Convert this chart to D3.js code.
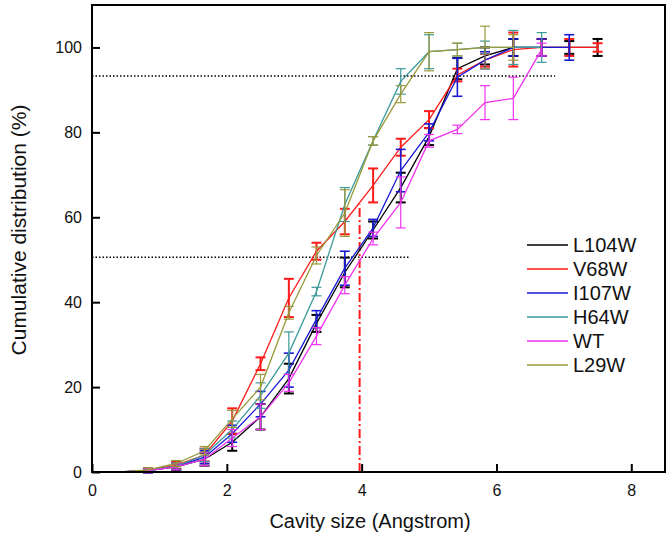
<!DOCTYPE html>
<html>
<head>
<meta charset="utf-8">
<script src="https://cdn.jsdelivr.net/npm/d3@7"></script>
<style>
  body { margin: 0; background: #fff; }
  svg { font-family: "Liberation Sans", Arial, sans-serif; }
</style>
</head>
<body>
<div id="chart"></div>
<script>
// cavity sizes (Angstrom)
const sizes = [0, 0.42, 0.83, 1.25, 1.67, 2.08, 2.5, 2.92, 3.33, 3.75, 4.17, 4.58, 5.0, 5.42, 5.83, 6.25, 6.67, 7.08, 7.5];

const names = ["L104W", "V68W", "I107W", "H64W", "WT", "L29W"];
const colors = ["#000000", "#ff1a1a", "#1a1ad6", "#3a9999", "#f032f0", "#99993a"];
const barWidths = [2, 2, 1.6, 1.2, 1.2, 1.2];

const valL104W = [0, 0, 0.3, 1.2, 3, 7, 13, 22, 35, 47, 57, 67, 79, 95, 98, 100, 100, 100, 100];
const errL104W = [0, 0, 0.5, 0.7, 1.5, 2, 3, 3.5, 2, 3.5, 2, 3.5, 2, 2.5, 2, 2, 2, 1.5, 2];
const valV68W  = [0, 0, 0.4, 1.6, 4, 12, 25.5, 41, 52, 59, 67.5, 76.5, 83, 93.5, 97, 99.5, 100, 100, 100];
const errV68W  = [0, 0, 0.5, 0.8, 1.5, 3, 1.5, 4.5, 2, 3, 4, 2, 2, 1.5, 1.5, 4, 2, 2, 1];
const valI107W = [0, 0, 0.3, 1.3, 3.5, 9, 16, 24, 36, 48, 57.5, 71, 80, 93, 97, 100, 100, 100];
const errI107W = [0, 0, 0.5, 0.7, 1.5, 2, 3, 4, 2, 4, 2, 5, 2, 4.5, 2, 2, 2, 3];
const valH64W  = [0, 0, 0.3, 1.4, 4, 10, 18, 28, 42.5, 63, 78, 92, 99, 99.5, 100, 100, 100];
const errH64W  = [0, 0, 0.5, 0.7, 1.5, 2, 3, 5, 1, 4, 1, 3, 4, 1.5, 1.5, 4, 3.5];
const valWT    = [0, 0, 0.3, 1.2, 3, 8, 13, 21, 32, 44, 55, 63.5, 78, 80.7, 87, 88, 99.5];
const errWT    = [0, 0, 0.5, 0.7, 1.5, 2, 3, 2, 2, 2, 1.5, 6, 1.5, 1, 4, 5, 1.5];
const valL29W  = [0, 0, 0.5, 2, 5, 12.5, 20, 37.5, 51, 61, 78, 89, 99, 99.5, 100, 100];
const errL29W  = [0, 0, 0.5, 0.7, 1, 2, 3, 1.5, 2, 5.5, 1, 2, 4.5, 1.5, 5, 3];

const allVals = [valL104W, valV68W, valI107W, valH64W, valWT, valL29W];
const allErrs = [errL104W, errV68W, errI107W, errH64W, errWT, errL29W];

const xTicks = [0, 2, 4, 6, 8];
const yTicks = [0, 20, 40, 60, 80, 100];

// reference lines
const hLines = [{ y: 93.3, x0: 0, x1: 6.87 }, { y: 50.6, x0: 0, x1: 4.71 }];
const vLine = { x: 3.97, y0: 0, y1: 63 };

const W = 672, H = 539;
const pLeft = 92, pRight = 665, pTop = 5, pBottom = 472;

const svg = d3.select("#chart").append("svg")
    .attr("width", W)
    .attr("height", H);

const x = d3.scaleLinear().domain([0, 8.5]).range([pLeft, pRight]);
const y = d3.scaleLinear().domain([0, 110]).range([pBottom, pTop]);

// axes (ticks inward)
const gx = svg.append("g")
    .attr("transform", `translate(0, ${pBottom})`)
    .call(d3.axisBottom(x).tickValues(xTicks).tickSizeInner(-8).tickSizeOuter(0).tickPadding(13));
const gy = svg.append("g")
    .attr("transform", `translate(${pLeft}, 0)`)
    .call(d3.axisLeft(y).tickValues(yTicks).tickSizeInner(-8).tickSizeOuter(0).tickPadding(10));

[gx, gy].forEach(g => {
    g.select(".domain").remove();
    g.selectAll(".tick line").attr("stroke", "#000").attr("stroke-width", 2);
    g.selectAll(".tick text")
        .attr("fill", "#111")
        .style("font-size", "16px")
        .style("font-family", "'Liberation Sans', Arial, sans-serif");
});

// dotted horizontal lines
hLines.forEach(l => {
    svg.append("line")
        .attr("x1", x(l.x0)).attr("x2", x(l.x1))
        .attr("y1", y(l.y)).attr("y2", y(l.y))
        .attr("stroke", "#000")
        .attr("stroke-width", 1.5)
        .attr("stroke-dasharray", "1.5,2");
});

// red dash-dot line
svg.append("line")
    .attr("x1", x(vLine.x)).attr("x2", x(vLine.x))
    .attr("y1", y(vLine.y0)).attr("y2", y(vLine.y1))
    .attr("stroke", "#ff1a1a")
    .attr("stroke-width", 2)
    .attr("stroke-dasharray", "9,3,2,3");

// series
const line = d3.line().x(d => x(d.x)).y(d => y(d.v));

names.forEach((name, i) => {
    const pts = allVals[i].map((v, j) => ({ x: sizes[j], v: v, e: allErrs[i][j] }));
    const g = svg.append("g");

    g.append("path")
        .datum(pts)
        .attr("d", line)
        .attr("fill", "none")
        .attr("stroke", colors[i])
        .attr("stroke-width", 1.3);

    const bars = g.selectAll(".err")
        .data(pts.filter(d => d.e > 0))
        .enter()
        .append("g")
        .attr("stroke", colors[i])
        .attr("stroke-width", barWidths[i]);

    bars.append("line")
        .attr("x1", d => x(d.x)).attr("x2", d => x(d.x))
        .attr("y1", d => y(d.v - d.e)).attr("y2", d => y(d.v + d.e));
    bars.append("line")
        .attr("x1", d => x(d.x) - 5).attr("x2", d => x(d.x) + 5)
        .attr("y1", d => y(d.v + d.e)).attr("y2", d => y(d.v + d.e));
    bars.append("line")
        .attr("x1", d => x(d.x) - 5).attr("x2", d => x(d.x) + 5)
        .attr("y1", d => y(d.v - d.e)).attr("y2", d => y(d.v - d.e));
});

// frame
svg.append("rect")
    .attr("x", pLeft).attr("y", pTop)
    .attr("width", pRight - pLeft).attr("height", pBottom - pTop)
    .attr("fill", "none")
    .attr("stroke", "#000")
    .attr("stroke-width", 2);

// legend
const legend = svg.append("g");
names.forEach((name, i) => {
    const ly = 245 + i * 24;
    legend.append("line")
        .attr("x1", 527).attr("x2", 568)
        .attr("y1", ly).attr("y2", ly)
        .attr("stroke", colors[i])
        .attr("stroke-width", 1.5);
    legend.append("text")
        .attr("x", 573)
        .attr("y", ly + 7)
        .style("font-size", "20px")
        .attr("fill", "#111")
        .text(name);
});

// axis titles
svg.append("text")
    .attr("x", 370)
    .attr("y", 528)
    .attr("text-anchor", "middle")
    .style("font-size", "20px")
    .attr("fill", "#111")
    .text("Cavity size (Angstrom)");

svg.append("text")
    .attr("transform", "rotate(-90)")
    .attr("x", -230)
    .attr("y", 26)
    .attr("text-anchor", "middle")
    .style("font-size", "21px")
    .attr("fill", "#111")
    .text("Cumulative distribution (%)");
</script>
</body>
</html>
